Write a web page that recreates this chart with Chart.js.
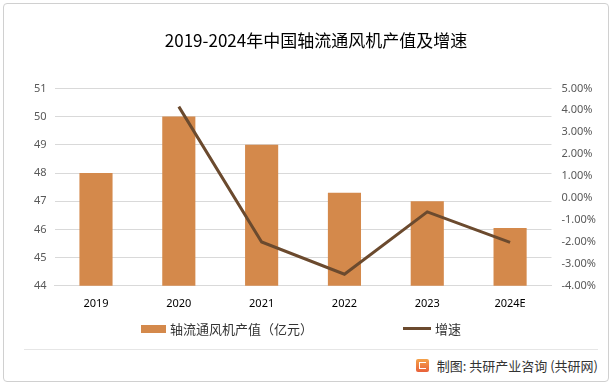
<!DOCTYPE html>
<html><head><meta charset="utf-8">
<script src="https://cdn.jsdelivr.net/npm/chart.js@4/dist/chart.umd.min.js"></script>
<style>
html,body{margin:0;padding:0;background:#fff;}
#wrap{position:absolute;left:3px;top:3px;width:606px;height:379px;border:1px solid #d0d0d0;border-radius:4px;box-sizing:border-box;overflow:hidden;}
#c{position:absolute;left:0;top:0;}
#legend{position:absolute;top:315px;left:0;width:100%;font:13px "Noto Sans CJK SC",sans-serif;color:#333;}
.li{position:absolute;display:flex;align-items:center;}
.sw{display:inline-block;margin-right:4px;}
#sep{position:absolute;left:20px;right:10px;top:345px;height:1px;background:#e6e6e6;}
#foot{position:absolute;right:10px;top:352px;font:13px "Noto Sans CJK SC",sans-serif;color:#333;display:flex;align-items:center;}
#logo{width:13px;height:13px;border-radius:2px;background:linear-gradient(#f4a24a,#e8603a);margin-right:8px;position:relative;}
#logo:after{content:"";position:absolute;left:3px;top:3px;width:7px;height:7px;border:1.5px solid #fff;border-right:none;box-sizing:border-box;}
</style></head>
<body>
<div id="wrap">
<canvas id="c" width="606" height="320"></canvas>
<div id="legend"></div>
<div id="sep"></div>
<div id="foot"><span id="logo"></span>制图: 共研产业咨询 (共研网)</div>
</div>
<script>
const categories = ["2019","2020","2021","2022","2023","2024E"];
const outputValues = [48, 50, 49, 47.3, 47, 46.05];
const growthValues = [null, 4.17, -2.0, -3.47, -0.63, -2.02];
const leftTicks = [44,45,46,47,48,49,50,51];
const rightTicks = [-4,-3,-2,-1,0,1,2,3,4,5];
const seriesNames = ["轴流通风机产值（亿元）","增速"];
const barColor = '#d4894b', lineColor = '#6b4a2e';

const chart = new Chart(document.getElementById('c'), {
  data: {
    labels: categories,
    datasets: [
      {type:'line', label:seriesNames[1], data: growthValues, yAxisID:'y1', borderColor:lineColor, backgroundColor:lineColor, borderWidth:3, pointRadius:0, tension:0, order:0},
      {type:'bar', label:seriesNames[0], data: outputValues, yAxisID:'y', backgroundColor:barColor, barPercentage:0.4, categoryPercentage:1, order:1}
    ]
  },
  options: {
    responsive:false, animation:false,
    layout:{padding:{left:22,right:4,top:0,bottom:11}},
    plugins:{
      title:{display:true, text:'2019-2024年中国轴流通风机产值及增速', color:'#000', font:{family:'"Noto Sans CJK SC", sans-serif', size:17, weight:'normal'}, padding:{top:26,bottom:38}},
      legend:{display:false},
      tooltip:{enabled:false}
    },
    scales:{
      x:{grid:{display:false}, border:{display:true,color:'#d9d9d9'}, ticks:{color:'#000', font:{family:'"Noto Sans", sans-serif', size:11}, padding:3}},
      y:{position:'left', min:44, max:51, afterBuildTicks(ax){ax.ticks = leftTicks.map(v=>({value:v}));},
         grid:{color:'#d9d9d9', drawTicks:false}, border:{display:false},
         ticks:{color:'#595959', font:{family:'"Noto Sans", sans-serif', size:11}, padding:8, autoSkip:false}},
      y1:{position:'right', min:-4, max:5, afterBuildTicks(ax){ax.ticks = rightTicks.map(v=>({value:v}));},
         grid:{display:false, drawTicks:false}, border:{display:false},
         ticks:{color:'#595959', font:{family:'"Noto Sans", sans-serif', size:11}, padding:10, autoSkip:false, callback:v=>v.toFixed(2)+'%'}}
    }
  }
});
// legend (HTML)
const lg = document.getElementById('legend');
lg.innerHTML = '<div class="li" style="left:137px"><span class="sw" style="width:25px;height:8px;background:'+barColor+'"></span>'+seriesNames[0]+'</div>'+
               '<div class="li" style="left:399px"><span class="sw" style="width:28px;height:3px;background:'+lineColor+'"></span>'+seriesNames[1]+'</div>';
</script>
</body></html>
